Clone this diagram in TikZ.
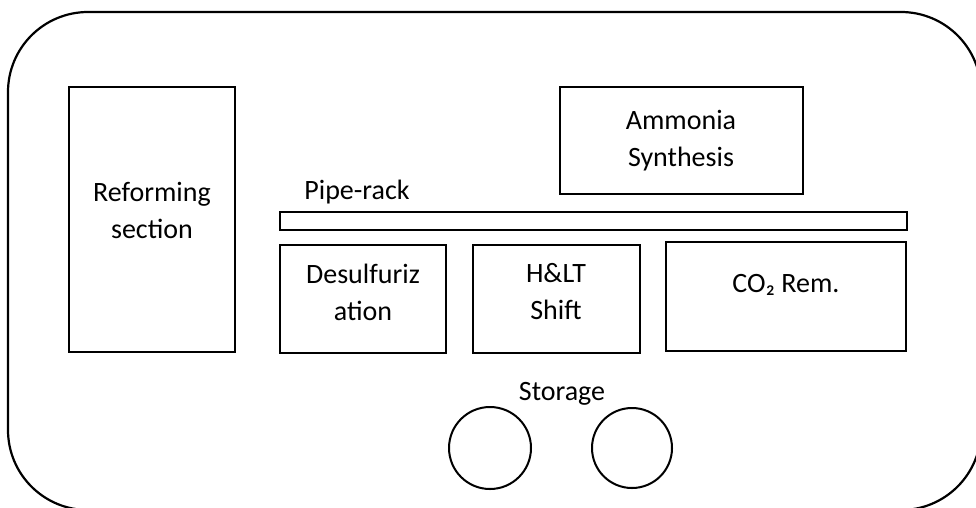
\documentclass[tikz,border=0pt]{standalone}
\usepackage{fontspec}
\setmainfont{Carlito}
\begin{document}
\begin{tikzpicture}[x=1pt,y=-1pt,
  box/.style={draw,line width=2pt,inner sep=0pt},
  txt/.style={font=\fontsize{28}{37}\selectfont,align=center,inner sep=0pt},
  tank/.style={draw,line width=2pt,circle,inner sep=0pt}]
\useasboundingbox (0,0) rectangle (976,507);
\draw[line width=2.2pt,rounded corners=80pt] (8,12) rectangle (981,510);
% boxes
\node[box,minimum width=166pt,minimum height=265pt] (ref) at (152,219.5) {};
\node[txt] (reft) at (152,210) {Reforming\\section};
\node[box,minimum width=243pt,minimum height=107pt] (amm) at (681.5,140.5) {};
\node[txt] (ammt) at (681,141) {Ammonia\\Synthesis};
\node[box,minimum width=627pt,minimum height=18pt] (pipe) at (593.5,220.5) {};
\node[txt] (pipet) at (357,192) {Pipe-rack};
\node[box,minimum width=166pt,minimum height=108pt] (des) at (363,298.5) {};
\node[txt] (dest) at (363,292) {Desulfuriz\\ation};
\node[box,minimum width=167pt,minimum height=108pt] (hlt) at (556.5,298.5) {};
\node[txt] (hltt) at (556,292) {H\&LT\\Shift};
\node[box,minimum width=240pt,minimum height=109pt] (co2) at (786,296.5) {};
\node[txt] (co2t) at (786,285) {CO₂ Rem.};
\node[txt] (stort) at (562,394) {Storage};
\node[tank,minimum size=82pt] (t1) at (490,448) {};
\node[tank,minimum size=80pt] (t2) at (632,448) {};
\end{tikzpicture}
\end{document}
